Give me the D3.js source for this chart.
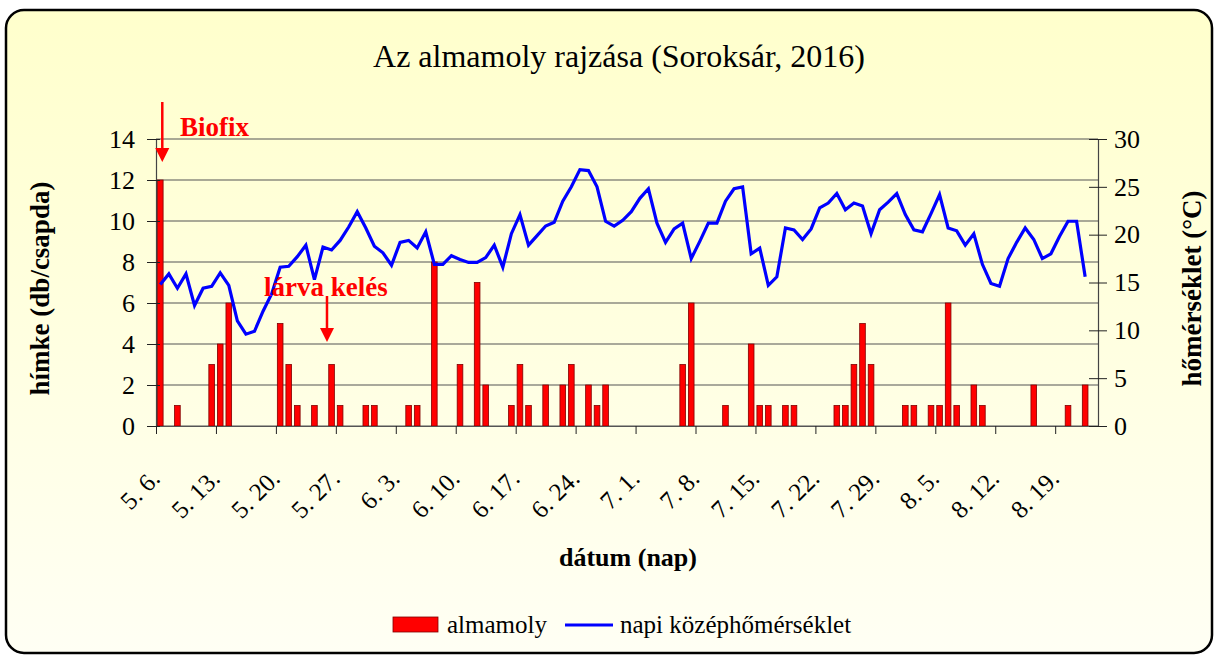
<!DOCTYPE html>
<html>
<head>
<meta charset="utf-8">
<script src="https://cdn.jsdelivr.net/npm/d3@7"></script>
<style>
  html, body { margin: 0; padding: 0; background: #fff; }
  svg text { font-family: "Liberation Serif", "Times New Roman", serif; }
</style>
</head>
<body>
<div id="chart"></div>
<script>
// --- data ---
const startDate = new Date(2016, 4, 6); // 5. 6.
const dayCount = 110;

const tickLabels = ["5. 6.", "5. 13.", "5. 20.", "5. 27.", "6. 3.", "6. 10.", "6. 17.", "6. 24.",
                    "7. 1.", "7. 8.", "7. 15.", "7. 22.", "7. 29.", "8. 5.", "8. 12.", "8. 19."];

// almamoly (hímke / csapda), one value per day
const mothCounts = [
  12, 0, 1, 0, 0, 0, 3, 4, 6, 0,
  0, 0, 0, 0, 5, 3, 1, 0, 1, 0,
  3, 1, 0, 0, 1, 1, 0, 0, 0, 1,
  1, 0, 8, 0, 0, 3, 0, 7, 2, 0,
  0, 1, 3, 1, 0, 2, 0, 2, 3, 0,
  2, 1, 2, 0, 0, 0, 0, 0, 0, 0,
  0, 3, 6, 0, 0, 0, 1, 0, 0, 4,
  1, 1, 0, 1, 1, 0, 0, 0, 0, 1,
  1, 3, 5, 3, 0, 0, 0, 1, 1, 0,
  1, 1, 6, 1, 0, 2, 1, 0, 0, 0,
  0, 0, 2, 0, 0, 0, 1, 0, 2, 0
];

// napi középhőmérséklet (°C)
const meanTemps = [
  14.8, 15.9, 14.4, 15.9, 12.6, 14.4, 14.6, 16.0, 14.7, 11.0,
  9.6, 9.9, 12.0, 13.8, 16.6, 16.7, 17.7, 18.9, 15.3, 18.7,
  18.4, 19.4, 20.8, 22.4, 20.7, 18.8, 18.1, 16.8, 19.2, 19.4,
  18.6, 20.3, 16.9, 16.9, 17.8, 17.4, 17.1, 17.1, 17.6, 18.9,
  16.6, 20.1, 22.1, 18.9, 19.9, 20.9, 21.3, 23.5, 25.0, 26.8,
  26.7, 25.0, 21.4, 20.9, 21.5, 22.4, 23.8, 24.8, 21.2, 19.2,
  20.6, 21.2, 17.5, 19.3, 21.2, 21.2, 23.5, 24.8, 25.0, 18.0,
  18.6, 14.7, 15.6, 20.7, 20.5, 19.5, 20.6, 22.8, 23.3, 24.3,
  22.6, 23.3, 23.0, 20.1, 22.6, 23.4, 24.3, 22.1, 20.5, 20.3,
  22.2, 24.2, 20.7, 20.4, 18.9, 20.1, 16.9, 14.9, 14.6, 17.5,
  19.2, 20.7, 19.5, 17.5, 18.0, 19.8, 21.4, 21.4, 15.6, null
];

const leftTicks = [0, 2, 4, 6, 8, 10, 12, 14];
const rightTicks = [0, 5, 10, 15, 20, 25, 30];

(function () {
    const W = 1219, H = 659;
    const plot = { left: 156, right: 1098, top: 139, bottom: 426 };
    const serif = '"Liberation Serif", "Times New Roman", serif';

    const days = d3.range(dayCount).map(i => d3.timeDay.offset(startDate, i));
    const data = days.map((d, i) => ({ i: i, date: d, moth: mothCounts[i], temp: meanTemps[i] }));

    const svg = d3.select("#chart").append("svg")
        .attr("width", W).attr("height", H)
        .attr("font-family", serif);

    // background panel with rounded border
    const defs = svg.append("defs");
    const grad = defs.append("linearGradient").attr("id", "bg").attr("x1", 0).attr("y1", 0).attr("x2", 0).attr("y2", 1);
    grad.append("stop").attr("offset", "0%").attr("stop-color", "#FFFFCC");
    grad.append("stop").attr("offset", "100%").attr("stop-color", "#FFFFF4");

    svg.append("rect")
        .attr("x", 6).attr("y", 10).attr("width", 1206).attr("height", 643)
        .attr("rx", 18).attr("ry", 18)
        .attr("fill", "url(#bg)").attr("stroke", "#000").attr("stroke-width", 2.5);

    // scales
    const x = d3.scaleBand().domain(d3.range(dayCount)).range([plot.left, plot.right]).padding(0);
    const xTick = d3.scaleLinear().domain([0, dayCount]).range([plot.left, plot.right]);
    const yLeft = d3.scaleLinear().domain([0, 14]).range([plot.bottom, plot.top]);
    const yRight = d3.scaleLinear().domain([0, 30]).range([plot.bottom, plot.top]);

    // gridlines
    svg.append("g").attr("class", "grid")
        .selectAll("line").data(leftTicks).join("line")
        .attr("x1", plot.left).attr("x2", plot.right)
        .attr("y1", d => yLeft(d)).attr("y2", d => yLeft(d))
        .attr("stroke", "#555").attr("stroke-width", 1.2);

    // bars
    const bw = x.bandwidth();
    svg.append("g").attr("class", "bars")
        .selectAll("rect").data(data.filter(d => d.moth > 0)).join("rect")
        .attr("x", d => x(d.i) + bw * 0.17)
        .attr("width", bw * 0.66)
        .attr("y", d => yLeft(d.moth))
        .attr("height", d => yLeft(0) - yLeft(d.moth))
        .attr("fill", "#FF0000").attr("stroke", "#800000").attr("stroke-width", 0.8);

    // temperature line
    const line = d3.line()
        .defined(d => d.temp != null)
        .x(d => x(d.i) + bw / 2)
        .y(d => yRight(d.temp));
    svg.append("path").datum(data)
        .attr("d", line)
        .attr("fill", "none").attr("stroke", "#0000FF").attr("stroke-width", 3.2)
        .attr("stroke-linejoin", "miter");

    // x axis
    const xAxis = svg.append("g")
        .attr("transform", `translate(0,${plot.bottom})`)
        .call(d3.axisBottom(xTick)
            .tickValues(d3.range(0, dayCount, 7))
            .tickSizeInner(8).tickSizeOuter(0)
            .tickFormat((d, k) => tickLabels[k]))
        .attr("font-family", serif);
    xAxis.select(".domain").attr("stroke", "#555").attr("stroke-width", 1.2);
    xAxis.selectAll(".tick line").attr("stroke", "#222");
    xAxis.selectAll(".tick text")
        .attr("font-size", "25px").attr("fill", "#000")
        .attr("text-anchor", "end")
        .attr("transform", "translate(5,54) rotate(-45)")
        .attr("x", 0).attr("y", 0).attr("dy", 0);

    // left axis
    const yAxisL = svg.append("g")
        .attr("transform", `translate(${plot.left},0)`)
        .call(d3.axisLeft(yLeft).tickValues(leftTicks).tickSizeOuter(0).tickPadding(15))
        .attr("font-family", serif);
    yAxisL.select(".domain").attr("stroke", "#444").attr("stroke-width", 1.2);
    yAxisL.selectAll(".tick line").attr("x1", 4).attr("x2", -9).attr("stroke", "#222");
    yAxisL.selectAll(".tick text").attr("font-size", "26px").attr("fill", "#000");

    // right axis
    const yAxisR = svg.append("g")
        .attr("transform", `translate(${plot.right},0)`)
        .call(d3.axisRight(yRight).tickValues(rightTicks).tickSizeOuter(0).tickPadding(10))
        .attr("font-family", serif);
    yAxisR.select(".domain").attr("stroke", "#444").attr("stroke-width", 1.2);
    yAxisR.selectAll(".tick line").attr("x1", -9).attr("x2", 9).attr("stroke", "#222");
    yAxisR.selectAll(".tick text").attr("font-size", "26px").attr("fill", "#000");

    // title
    svg.append("text")
        .attr("x", 619).attr("y", 67)
        .attr("text-anchor", "middle")
        .attr("font-size", "32px")
        .text("Az almamoly rajzása (Soroksár, 2016)");

    // axis titles
    svg.append("text")
        .attr("transform", `translate(40,${(plot.top + plot.bottom) / 2 + 6}) rotate(-90)`)
        .attr("text-anchor", "middle").attr("dy", "0.35em")
        .attr("font-size", "27px").attr("font-weight", "bold")
        .text("hímke (db/csapda)");

    svg.append("text")
        .attr("transform", `translate(1192,${(plot.top + plot.bottom) / 2 + 6}) rotate(-90)`)
        .attr("text-anchor", "middle").attr("dy", "0.35em")
        .attr("font-size", "27px").attr("font-weight", "bold")
        .text("hőmérséklet (°C)");

    svg.append("text")
        .attr("x", 628).attr("y", 566)
        .attr("text-anchor", "middle")
        .attr("font-size", "26px").attr("font-weight", "bold")
        .text("dátum (nap)");

    // annotations
    const arrow = (xPos, y0, y1) => {
        svg.append("line")
            .attr("x1", xPos).attr("x2", xPos).attr("y1", y0).attr("y2", y1 - 12)
            .attr("stroke", "#FF0000").attr("stroke-width", 2.5);
        svg.append("path")
            .attr("d", `M${xPos - 7},${y1 - 14}L${xPos + 7},${y1 - 14}L${xPos},${y1}Z`)
            .attr("fill", "#FF0000");
    };
    arrow(x(0) + bw / 2 + 2, 102, 162);
    svg.append("text")
        .attr("x", 180).attr("y", 136)
        .attr("font-size", "27px").attr("font-weight", "bold").attr("fill", "#FF0000")
        .text("Biofix");

    arrow(x(19) + bw / 2 + 4, 296, 342);
    svg.append("text")
        .attr("x", 264).attr("y", 296)
        .attr("font-size", "27px").attr("font-weight", "bold").attr("fill", "#FF0000")
        .text("lárva kelés");

    // legend
    const lg = svg.append("g").attr("transform", "translate(393,617)");
    lg.append("rect").attr("x", 0).attr("y", 0).attr("width", 45).attr("height", 15)
        .attr("fill", "#FF0000").attr("stroke", "#800000").attr("stroke-width", 0.8);
    lg.append("text").attr("x", 54).attr("y", 7.5).attr("dy", "0.35em")
        .attr("font-size", "25px").text("almamoly");
    lg.append("line").attr("x1", 172).attr("x2", 220).attr("y1", 8).attr("y2", 8)
        .attr("stroke", "#0000FF").attr("stroke-width", 3);
    lg.append("text").attr("x", 227).attr("y", 7.5).attr("dy", "0.35em")
        .attr("font-size", "25px").text("napi középhőmérséklet");
})();
</script>
</body>
</html>
